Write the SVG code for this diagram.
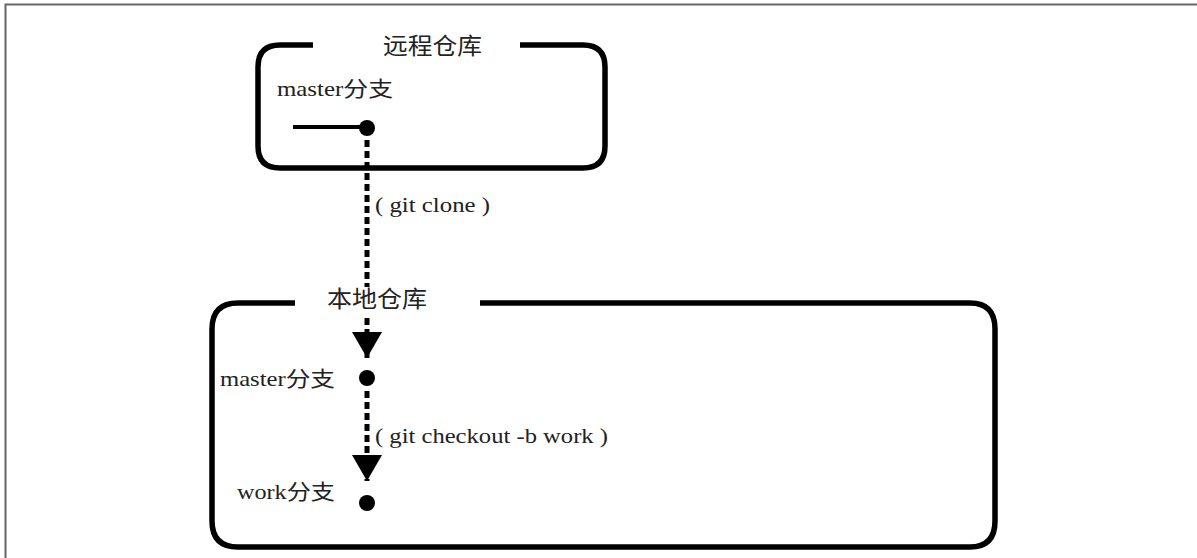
<svg xmlns="http://www.w3.org/2000/svg" width="1197" height="558" viewBox="0 0 1197 558">
<style>
.box{fill:none;stroke:#000;stroke-width:5.5;stroke-linecap:butt}
.t{font-family:"Liberation Serif","Noto Sans CJK SC",serif;fill:#222}
.dash{stroke:#000;stroke-width:5;stroke-dasharray:7 4;fill:none}
.dot{fill:#000}
</style>
<defs>
<marker id="tri" markerWidth="26" markerHeight="30" refX="26" refY="15" orient="auto" markerUnits="userSpaceOnUse" viewBox="0 0 26 30">
<path d="M0,0 L26,15 L0,30 Z" fill="#000"/>
</marker>
</defs>
<rect width="1197" height="558" fill="#fff"/>
<path d="M5.5,558 V4.5 H1197" fill="none" stroke="#666" stroke-width="2"/>
<g id="remote">
<path class="box" d="M313,45 H280 Q258,45 258,67 V146 Q258,168 280,168 H583 Q605,168 605,146 V67 Q605,45 583,45 H520"/>
<text class="t" x="383" y="54" font-size="23" textLength="99" lengthAdjust="spacingAndGlyphs">远程仓库</text>
<text class="t" x="277" y="96" font-size="21" textLength="116" lengthAdjust="spacingAndGlyphs">master分支</text>
<line x1="293" y1="127" x2="362" y2="127" stroke="#000" stroke-width="4"/>
<circle class="dot" cx="367" cy="128" r="8"/>
</g>
<g id="local">
<path class="box" d="M295,303 H238 Q212,303 212,329 V521 Q212,547 238,547 H970 Q995,547 995,521 V329 Q995,303 970,303 H480"/>
<text class="t" x="327" y="307" font-size="23" textLength="100" lengthAdjust="spacingAndGlyphs">本地仓库</text>
</g>
<g id="local-master">
<circle class="dot" cx="367" cy="378" r="8"/>
<text class="t" x="220" y="386" font-size="21" textLength="115" lengthAdjust="spacingAndGlyphs">master分支</text>
</g>
<g id="work">
<circle class="dot" cx="367" cy="503" r="8"/>
<text class="t" x="237" y="499" font-size="21" textLength="98" lengthAdjust="spacingAndGlyphs">work分支</text>
</g>
<g id="connectors">
<line class="dash" x1="367" y1="140" x2="367" y2="287"/>
<line class="dash" x1="367" y1="318" x2="367" y2="358" marker-end="url(#tri)"/>
<text class="t" x="375" y="212" font-size="20" textLength="115" lengthAdjust="spacingAndGlyphs">( git clone )</text>
<line class="dash" x1="367" y1="391" x2="367" y2="481" marker-end="url(#tri)"/>
<text class="t" x="375" y="443" font-size="20" textLength="233" lengthAdjust="spacingAndGlyphs">( git checkout -b work )</text>
</g>
</svg>
